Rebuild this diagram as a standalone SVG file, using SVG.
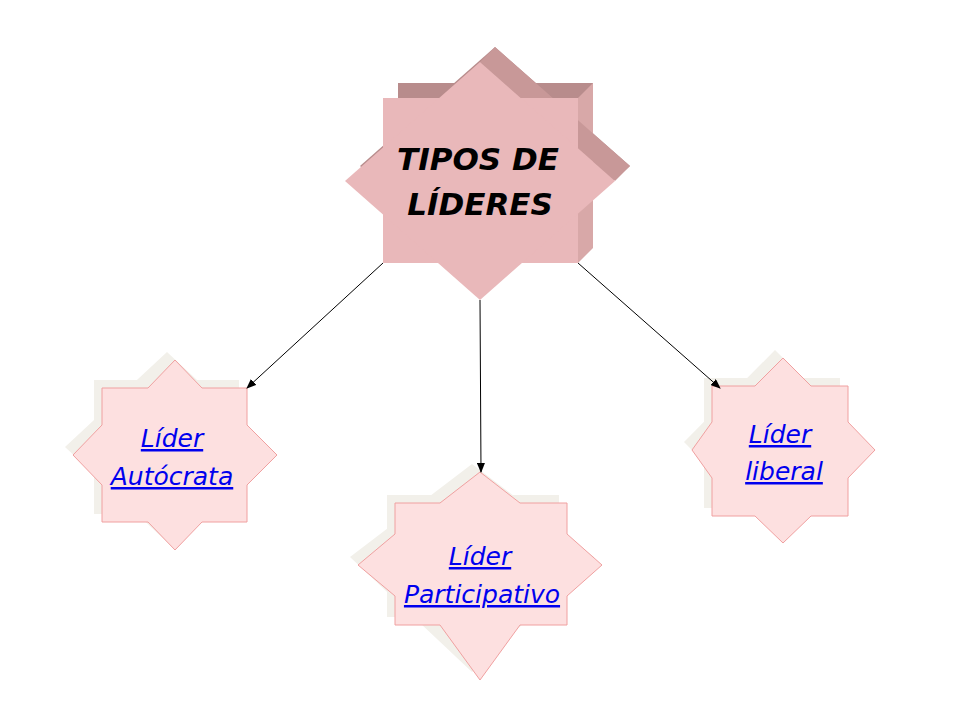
<svg xmlns="http://www.w3.org/2000/svg" width="960" height="720" viewBox="0 0 960 720">
<defs>
<style>
.sm{fill:#fde0e0;stroke:#f0a0a0;stroke-width:1}
.sh{fill:#f2f0ea}
.lk{font-family:"Comic Sans MS","DejaVu Sans",sans-serif;font-style:italic;font-size:25px;fill:#0000ee;text-decoration:underline;text-anchor:middle}
.ti{font-family:"Comic Sans MS","DejaVu Sans",sans-serif;font-style:italic;font-weight:bold;font-size:31px;fill:#000;text-anchor:middle}
.cn{stroke:#000;stroke-width:1;fill:none;marker-end:url(#ar)}
</style>
<marker id="ar" markerWidth="10" markerHeight="8" refX="9" refY="4" orient="auto" markerUnits="userSpaceOnUse"><path d="M0,0 L10,4 L0,8 Z" fill="#000"/></marker>
</defs>
<rect width="960" height="720" fill="#fff"/>
<g id="main">
<g transform="translate(15,-15)" fill="#b88c8c">
<rect x="383" y="98" width="195" height="165"/>
<polygon points="480,62 615,181 480,300 345,181"/>
</g>
<polygon points="578,98 593,83 593,248 578,263" fill="#d8a8a8"/>
<polygon points="480,62 495,47 630,166 615,181" fill="#c89898"/>
<g fill="#e9b8ba">
<rect x="383" y="98" width="195" height="165"/>
<polygon points="480,62 615,181 480,300 345,181"/>
</g>
<text class="ti" x="478" y="170">TIPOS DE</text>
<text class="ti" x="480" y="215">LÍDERES</text>
</g>
<g id="autocrata">
<g class="sh" transform="translate(-8,-8)"><rect x="102" y="388" width="145" height="134"/><polygon points="175,360 277,455 175,550 73,455"/></g>
<path class="sm" d="M175,360 L202,388 L247,388 L247,425 L277,455 L247,485 L247,522 L202,522 L175,550 L148,522 L102,522 L102,485 L73,455 L102,425 L102,388 L148,388 Z"/>
<text class="lk" x="172" y="447">Líder</text>
<text class="lk" x="172" y="485">Autócrata</text>
</g>
<g id="participativo">
<g class="sh" transform="translate(-8,-8)"><rect x="395" y="503" width="172" height="122"/><polygon points="480,472 602,565 480,680 358,565"/></g>
<path class="sm" d="M480,472 L520,503 L567,503 L567,534 L602,565 L567,596 L567,625 L520,625 L480,680 L440,625 L395,625 L395,596 L358,565 L395,534 L395,503 L440,503 Z"/>
<text class="lk" x="480" y="565">Líder</text>
<text class="lk" x="482" y="603">Participativo</text>
</g>
<g id="liberal">
<g class="sh" transform="translate(-8,-8)"><rect x="712" y="386" width="136" height="130"/><polygon points="783,358 875,450 783,543 692,450"/></g>
<path class="sm" d="M783,358 L811,386 L848,386 L848,422 L875,450 L848,478 L848,516 L811,516 L783,543 L755,516 L712,516 L712,478 L692,450 L712,422 L712,386 L755,386 Z"/>
<text class="lk" x="780" y="443">Líder</text>
<text class="lk" x="784" y="480">liberal</text>
</g>
<g id="connectors">
<line class="cn" x1="383" y1="263" x2="247" y2="388"/>
<line class="cn" x1="480" y1="300" x2="481" y2="472"/>
<line class="cn" x1="578" y1="263" x2="720" y2="388"/>
</g>
</svg>
